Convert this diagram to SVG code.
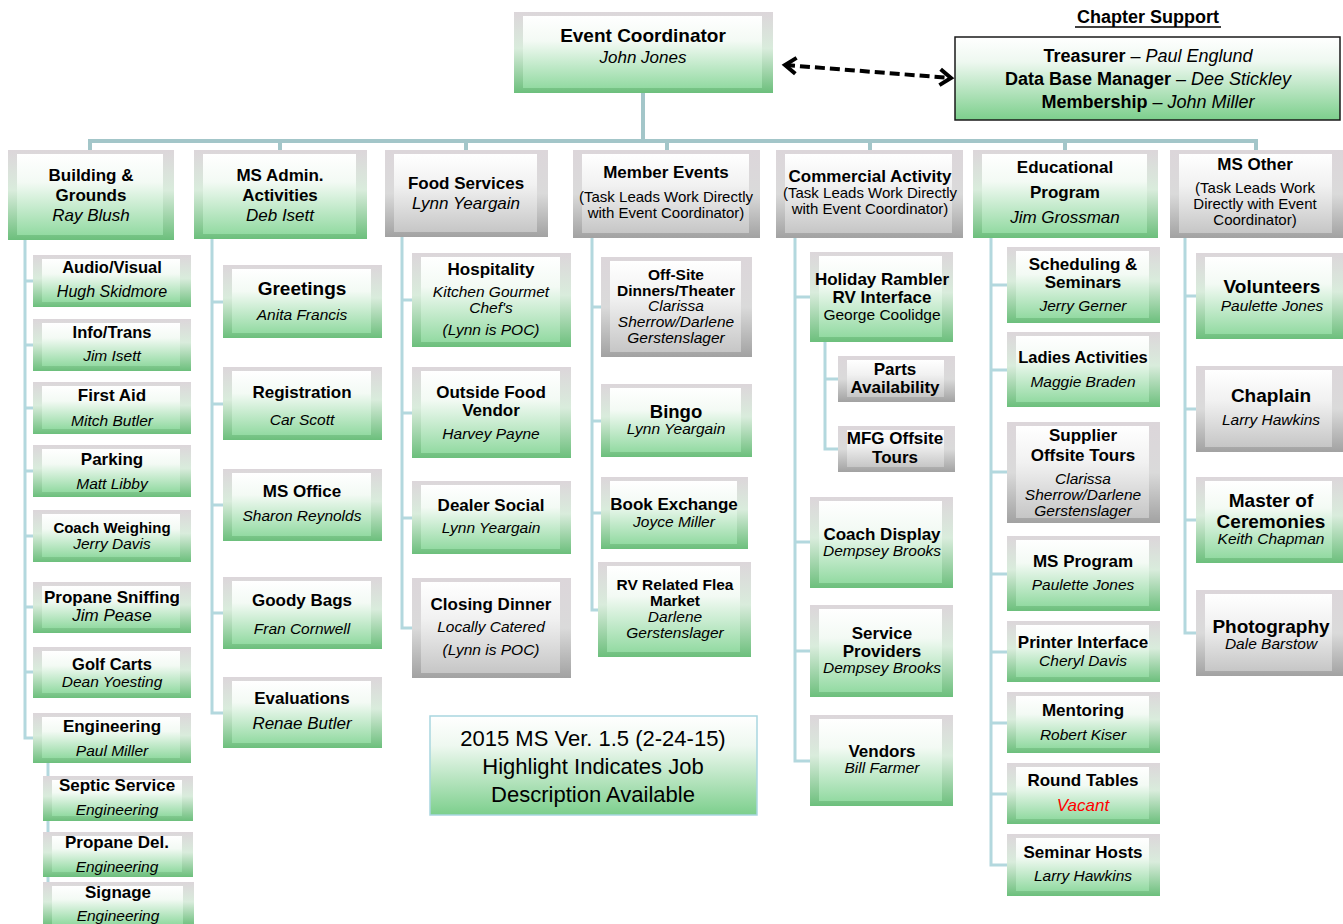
<svg xmlns="http://www.w3.org/2000/svg" width="1343" height="924" viewBox="0 0 1343 924">
<defs>
<linearGradient id="gFrG" x1="0" y1="0" x2="0" y2="1"><stop offset="0" stop-color="#dcd6da"/><stop offset="0.45" stop-color="#d9ecdc"/><stop offset="1" stop-color="#6cbf7c"/></linearGradient>
<linearGradient id="gFcG" x1="0" y1="0" x2="0" y2="1"><stop offset="0" stop-color="#ffffff"/><stop offset="0.35" stop-color="#f3faf4"/><stop offset="1" stop-color="#93daa2"/></linearGradient>
<linearGradient id="gFrY" x1="0" y1="0" x2="0" y2="1"><stop offset="0" stop-color="#dcd6da"/><stop offset="0.5" stop-color="#dadada"/><stop offset="1" stop-color="#a2a2a2"/></linearGradient>
<linearGradient id="gFcY" x1="0" y1="0" x2="0" y2="1"><stop offset="0" stop-color="#ffffff"/><stop offset="0.4" stop-color="#f1f1f1"/><stop offset="1" stop-color="#c6c6c6"/></linearGradient>
<linearGradient id="gPl" x1="0" y1="0" x2="0" y2="1"><stop offset="0" stop-color="#ffffff"/><stop offset="0.3" stop-color="#eef8f0"/><stop offset="1" stop-color="#7ccf8c"/></linearGradient>
<marker id="chev" viewBox="-16 -12 20 24" refX="0" refY="0" markerWidth="20" markerHeight="24" markerUnits="userSpaceOnUse" orient="auto-start-reverse"><path d="M-11,-8 L0,0 L-11,8" fill="none" stroke="#000" stroke-width="4"/></marker>
</defs>
<style>
text{font-family:"Liberation Sans",Arial,sans-serif;text-anchor:middle;fill:#000}
.b{font-weight:bold;font-size:17px}
.i{font-style:italic;font-size:15.5px}
.r{font-size:15px}
.g .fr{fill:url(#gFrG)}
.g .fc{fill:url(#gFcG)}
.y .fr{fill:url(#gFrY)}
.y .fc{fill:url(#gFcY)}
.cn{stroke:#b3d8de;stroke-width:3;fill:none}
.bus{stroke:#a3c6c9;stroke-width:4;fill:none}
</style>
<rect width="1343" height="924" fill="#ffffff"/>

<g id="connectors">
<path class="bus" d="M643,93 V141 M88,141 H1258 M90,141 V150 M280,141 V150 M466,141 V150 M667,141 V150 M870,141 V150 M1065,141 V150 M1256,141 V150"/>
<path class="cn" d="M25,240 V738 H33 M25,281 H33 M25,345 H33 M25,408 H33 M25,471 H33 M25,536 H33 M25,607 H33 M25,672 H33"/>
<path class="cn" d="M48,763 V905"/>
<path class="cn" d="M212,239 V713 H223 M212,302 H223 M212,404 H223 M212,505 H223 M212,613 H223"/>
<path class="cn" d="M402,237 V628 H412 M402,300 H412 M402,413 H412 M402,518 H412"/>
<path class="cn" d="M592,238 V610 H601 M592,307 H601 M592,421 H601 M592,513 H601"/>
<path class="cn" d="M795,238 V761 H810 M795,297 H810 M795,542 H810 M795,651 H810"/>
<path class="cn" d="M825,342 V449 H838 M825,379 H838"/>
<path class="cn" d="M991,238 V865 H1007 M991,285 H1007 M991,370 H1007 M991,472 H1007 M991,574 H1007 M991,652 H1007 M991,723 H1007 M991,794 H1007"/>
<path class="cn" d="M1185,238 V633 H1196 M1185,296 H1196 M1185,409 H1196 M1185,520 H1196"/>
<line x1="785" y1="65" x2="951" y2="78" stroke="#000" stroke-width="4" stroke-dasharray="10 5" marker-start="url(#chev)" marker-end="url(#chev)"/>
</g>

<g id="event-coordinator" class="g"><rect class="fr" x="514" y="12" width="259" height="81"/><rect class="fc" x="523" y="16" width="239" height="72"/>
<text class="b" x="643" y="42" style="font-size:19px">Event Coordinator</text><text class="i" x="643" y="63" style="font-size:17px">John Jones</text></g>

<g id="chapter-support">
<text class="b" x="1148" y="23" style="font-size:18px">Chapter Support</text><line x1="1075" y1="27" x2="1221" y2="27" stroke="#000" stroke-width="1.5"/>
<rect x="955" y="37" width="385" height="83" fill="url(#gPl)" stroke="#1a1a1a" stroke-width="1.5"/>
<text x="1148" y="62" style="font-size:18px"><tspan font-weight="bold">Treasurer</tspan> – <tspan font-style="italic">Paul Englund</tspan></text>
<text x="1148" y="85" style="font-size:18px"><tspan font-weight="bold">Data Base Manager</tspan> – <tspan font-style="italic">Dee Stickley</tspan></text>
<text x="1148" y="108" style="font-size:18px"><tspan font-weight="bold">Membership</tspan> – <tspan font-style="italic">John Miller</tspan></text>
</g>

<g id="building-grounds" class="g"><rect class="fr" x="8" y="150" width="166" height="90"/><rect class="fc" x="17" y="154" width="146" height="81"/>
<text class="b" x="91" y="181">Building &amp;</text><text class="b" x="91" y="201">Grounds</text><text class="i" x="91" y="221" style="font-size:17px">Ray Blush</text></g>
<g id="ms-admin" class="g"><rect class="fr" x="194" y="150" width="173" height="89"/><rect class="fc" x="203" y="154" width="153" height="80"/>
<text class="b" x="280" y="181">MS Admin.</text><text class="b" x="280" y="201">Activities</text><text class="i" x="280" y="221" style="font-size:17px">Deb Isett</text></g>
<g id="food-services" class="y"><rect class="fr" x="385" y="150" width="163" height="87"/><rect class="fc" x="394" y="154" width="143" height="78"/>
<text class="b" x="466" y="189">Food Services</text><text class="i" x="466" y="209" style="font-size:17px">Lynn Yeargain</text></g>
<g id="member-events" class="y"><rect class="fr" x="573" y="150" width="187" height="88"/><rect class="fc" x="582" y="154" width="167" height="79"/>
<text class="b" x="666" y="178">Member Events</text><text class="r" x="666" y="202">(Task Leads Work Directly</text><text class="r" x="666" y="218">with Event Coordinator)</text></g>
<g id="commercial-activity" class="y"><rect class="fr" x="776" y="150" width="187" height="88"/><rect class="fc" x="785" y="154" width="167" height="79"/>
<text class="b" x="870" y="182">Commercial Activity</text><text class="r" x="870" y="198">(Task Leads Work Directly</text><text class="r" x="870" y="214">with Event Coordinator)</text></g>
<g id="educational-program" class="g"><rect class="fr" x="973" y="150" width="185" height="88"/><rect class="fc" x="982" y="154" width="165" height="79"/>
<text class="b" x="1065" y="173">Educational</text><text class="b" x="1065" y="198">Program</text><text class="i" x="1065" y="223" style="font-size:17px">Jim Grossman</text></g>
<g id="ms-other" class="y"><rect class="fr" x="1170" y="150" width="173" height="88"/><rect class="fc" x="1179" y="154" width="153" height="79"/>
<text class="b" x="1255" y="170">MS Other</text><text class="r" x="1255" y="193">(Task Leads Work</text><text class="r" x="1255" y="209">Directly with Event</text><text class="r" x="1255" y="225">Coordinator)</text></g>

<g id="audio-visual" class="g"><rect class="fr" x="33" y="255" width="158" height="52"/><rect class="fc" x="42" y="259" width="138" height="43"/>
<text class="b" x="112" y="273" style="font-size:16.5px">Audio/Visual</text><text class="i" x="112" y="297" style="font-size:16px">Hugh Skidmore</text></g>
<g id="info-trans" class="g"><rect class="fr" x="33" y="319" width="158" height="52"/><rect class="fc" x="42" y="323" width="138" height="43"/>
<text class="b" x="112" y="338" style="font-size:16.5px">Info/Trans</text><text class="i" x="112" y="361">Jim Isett</text></g>
<g id="first-aid" class="g"><rect class="fr" x="33" y="382" width="158" height="52"/><rect class="fc" x="42" y="386" width="138" height="43"/>
<text class="b" x="112" y="401">First Aid</text><text class="i" x="112" y="426">Mitch Butler</text></g>
<g id="parking" class="g"><rect class="fr" x="33" y="445" width="158" height="52"/><rect class="fc" x="42" y="449" width="138" height="43"/>
<text class="b" x="112" y="465">Parking</text><text class="i" x="112" y="489">Matt Libby</text></g>
<g id="coach-weighing" class="g"><rect class="fr" x="33" y="510" width="158" height="52"/><rect class="fc" x="42" y="514" width="138" height="43"/>
<text class="b" x="112" y="533" style="font-size:15px">Coach Weighing</text><text class="i" x="112" y="549">Jerry Davis</text></g>
<g id="propane-sniffing" class="g"><rect class="fr" x="33" y="582" width="158" height="51"/><rect class="fc" x="42" y="586" width="138" height="42"/>
<text class="b" x="112" y="603">Propane Sniffing</text><text class="i" x="112" y="621" style="font-size:17px">Jim Pease</text></g>
<g id="golf-carts" class="g"><rect class="fr" x="33" y="647" width="158" height="51"/><rect class="fc" x="42" y="651" width="138" height="42"/>
<text class="b" x="112" y="670" style="font-size:16.5px">Golf Carts</text><text class="i" x="112" y="687">Dean Yoesting</text></g>
<g id="engineering" class="g"><rect class="fr" x="33" y="713" width="158" height="50"/><rect class="fc" x="42" y="717" width="138" height="41"/>
<text class="b" x="112" y="732">Engineering</text><text class="i" x="112" y="756">Paul Miller</text></g>
<g id="septic-service" class="g"><rect class="fr" x="43" y="776" width="150" height="45"/><rect class="fc" x="52" y="780" width="130" height="36"/>
<text class="b" x="117" y="791">Septic Service</text><text class="i" x="117" y="815">Engineering</text></g>
<g id="propane-del" class="g"><rect class="fr" x="43" y="832" width="150" height="45"/><rect class="fc" x="52" y="836" width="130" height="36"/>
<text class="b" x="117" y="848">Propane Del.</text><text class="i" x="117" y="872">Engineering</text></g>
<g id="signage" class="g"><rect class="fr" x="43" y="882" width="151" height="44"/><rect class="fc" x="52" y="886" width="131" height="38"/>
<text class="b" x="118" y="898">Signage</text><text class="i" x="118" y="921">Engineering</text></g>

<g id="greetings" class="g"><rect class="fr" x="223" y="265" width="159" height="73"/><rect class="fc" x="232" y="269" width="139" height="64"/>
<text class="b" x="302" y="295" style="font-size:19px">Greetings</text><text class="i" x="302" y="320">Anita Francis</text></g>
<g id="registration" class="g"><rect class="fr" x="223" y="367" width="159" height="73"/><rect class="fc" x="232" y="371" width="139" height="64"/>
<text class="b" x="302" y="398">Registration</text><text class="i" x="302" y="425">Car Scott</text></g>
<g id="ms-office" class="g"><rect class="fr" x="223" y="469" width="159" height="72"/><rect class="fc" x="232" y="473" width="139" height="63"/>
<text class="b" x="302" y="497">MS Office</text><text class="i" x="302" y="521">Sharon Reynolds</text></g>
<g id="goody-bags" class="g"><rect class="fr" x="223" y="577" width="159" height="72"/><rect class="fc" x="232" y="581" width="139" height="63"/>
<text class="b" x="302" y="606">Goody Bags</text><text class="i" x="302" y="634">Fran Cornwell</text></g>
<g id="evaluations" class="g"><rect class="fr" x="223" y="677" width="159" height="71"/><rect class="fc" x="232" y="681" width="139" height="62"/>
<text class="b" x="302" y="704">Evaluations</text><text class="i" x="302" y="729" style="font-size:17px">Renae Butler</text></g>

<g id="hospitality" class="g"><rect class="fr" x="412" y="253" width="159" height="94"/><rect class="fc" x="421" y="257" width="139" height="85"/>
<text class="b" x="491" y="275">Hospitality</text><text class="i" x="491" y="297">Kitchen Gourmet</text><text class="i" x="491" y="313">Chef's</text><text class="i" x="491" y="335">(Lynn is POC)</text></g>
<g id="outside-food-vendor" class="g"><rect class="fr" x="412" y="367" width="159" height="91"/><rect class="fc" x="421" y="371" width="139" height="82"/>
<text class="b" x="491" y="398">Outside Food</text><text class="b" x="491" y="416">Vendor</text><text class="i" x="491" y="439">Harvey Payne</text></g>
<g id="dealer-social" class="g"><rect class="fr" x="412" y="481" width="159" height="73"/><rect class="fc" x="421" y="485" width="139" height="64"/>
<text class="b" x="491" y="511">Dealer Social</text><text class="i" x="491" y="533">Lynn Yeargain</text></g>
<g id="closing-dinner" class="y"><rect class="fr" x="412" y="578" width="159" height="100"/><rect class="fc" x="421" y="582" width="139" height="91"/>
<text class="b" x="491" y="610">Closing Dinner</text><text class="i" x="491" y="632">Locally Catered</text><text class="i" x="491" y="655">(Lynn is POC)</text></g>

<g id="off-site-dinners" class="y"><rect class="fr" x="601" y="257" width="151" height="100"/><rect class="fc" x="610" y="261" width="131" height="91"/>
<text class="b" x="676" y="280" style="font-size:15.5px">Off-Site</text><text class="b" x="676" y="296" style="font-size:15.5px">Dinners/Theater</text><text class="i" x="676" y="311">Clarissa</text><text class="i" x="676" y="327">Sherrow/Darlene</text><text class="i" x="676" y="343">Gerstenslager</text></g>
<g id="bingo" class="g"><rect class="fr" x="601" y="384" width="151" height="73"/><rect class="fc" x="610" y="388" width="131" height="64"/>
<text class="b" x="676" y="418" style="font-size:18.5px">Bingo</text><text class="i" x="676" y="434">Lynn Yeargain</text></g>
<g id="book-exchange" class="g"><rect class="fr" x="601" y="477" width="147" height="72"/><rect class="fc" x="610" y="481" width="127" height="63"/>
<text class="b" x="674" y="510">Book Exchange</text><text class="i" x="674" y="527">Joyce Miller</text></g>
<g id="rv-flea-market" class="g"><rect class="fr" x="598" y="562" width="153" height="95"/><rect class="fc" x="607" y="566" width="133" height="86"/>
<text class="b" x="675" y="590" style="font-size:15.5px">RV Related Flea</text><text class="b" x="675" y="606" style="font-size:15.5px">Market</text><text class="i" x="675" y="622">Darlene</text><text class="i" x="675" y="638">Gerstenslager</text></g>

<g id="holiday-rambler" class="g"><rect class="fr" x="810" y="252" width="143" height="90"/><rect class="fc" x="819" y="256" width="123" height="81"/>
<text class="b" x="882" y="285">Holiday Rambler</text><text class="b" x="882" y="303">RV Interface</text><text class="r" x="882" y="320" style="font-size:15.5px">George Coolidge</text></g>
<g id="parts-availability" class="y"><rect class="fr" x="838" y="356" width="117" height="46"/><rect class="fc" x="847" y="360" width="97" height="37"/>
<text class="b" x="895" y="375">Parts</text><text class="b" x="895" y="393">Availability</text></g>
<g id="mfg-offsite-tours" class="y"><rect class="fr" x="838" y="426" width="117" height="46"/><rect class="fc" x="847" y="430" width="97" height="37"/>
<text class="b" x="895" y="444">MFG Offsite</text><text class="b" x="895" y="463">Tours</text></g>
<g id="coach-display" class="g"><rect class="fr" x="810" y="497" width="143" height="91"/><rect class="fc" x="819" y="501" width="123" height="82"/>
<text class="b" x="882" y="540">Coach Display</text><text class="i" x="882" y="556">Dempsey Brooks</text></g>
<g id="service-providers" class="g"><rect class="fr" x="810" y="605" width="143" height="92"/><rect class="fc" x="819" y="609" width="123" height="83"/>
<text class="b" x="882" y="639">Service</text><text class="b" x="882" y="657">Providers</text><text class="i" x="882" y="673">Dempsey Brooks</text></g>
<g id="vendors" class="g"><rect class="fr" x="810" y="715" width="143" height="91"/><rect class="fc" x="819" y="719" width="123" height="82"/>
<text class="b" x="882" y="757">Vendors</text><text class="i" x="882" y="773">Bill Farmer</text></g>

<g id="scheduling-seminars" class="g"><rect class="fr" x="1007" y="247" width="153" height="76"/><rect class="fc" x="1016" y="251" width="133" height="67"/>
<text class="b" x="1083" y="270">Scheduling &amp;</text><text class="b" x="1083" y="288">Seminars</text><text class="i" x="1083" y="311">Jerry Gerner</text></g>
<g id="ladies-activities" class="g"><rect class="fr" x="1007" y="332" width="153" height="75"/><rect class="fc" x="1016" y="336" width="133" height="66"/>
<text class="b" x="1083" y="363" style="font-size:16.5px">Ladies Activities</text><text class="i" x="1083" y="387">Maggie Braden</text></g>
<g id="supplier-offsite-tours" class="y"><rect class="fr" x="1007" y="422" width="153" height="101"/><rect class="fc" x="1016" y="426" width="133" height="92"/>
<text class="b" x="1083" y="441">Supplier</text><text class="b" x="1083" y="461">Offsite Tours</text><text class="i" x="1083" y="484">Clarissa</text><text class="i" x="1083" y="500">Sherrow/Darlene</text><text class="i" x="1083" y="516">Gerstenslager</text></g>
<g id="ms-program" class="g"><rect class="fr" x="1007" y="536" width="153" height="75"/><rect class="fc" x="1016" y="540" width="133" height="66"/>
<text class="b" x="1083" y="567">MS Program</text><text class="i" x="1083" y="590">Paulette Jones</text></g>
<g id="printer-interface" class="g"><rect class="fr" x="1007" y="621" width="153" height="61"/><rect class="fc" x="1016" y="625" width="133" height="52"/>
<text class="b" x="1083" y="648">Printer Interface</text><text class="i" x="1083" y="666">Cheryl Davis</text></g>
<g id="mentoring" class="g"><rect class="fr" x="1007" y="692" width="153" height="61"/><rect class="fc" x="1016" y="696" width="133" height="52"/>
<text class="b" x="1083" y="716">Mentoring</text><text class="i" x="1083" y="740">Robert Kiser</text></g>
<g id="round-tables" class="g"><rect class="fr" x="1007" y="763" width="153" height="61"/><rect class="fc" x="1016" y="767" width="133" height="52"/>
<text class="b" x="1083" y="786">Round Tables</text><text class="i" x="1083" y="811" style="font-size:17px;fill:#ff0000">Vacant</text></g>
<g id="seminar-hosts" class="g"><rect class="fr" x="1007" y="834" width="153" height="62"/><rect class="fc" x="1016" y="838" width="133" height="53"/>
<text class="b" x="1083" y="858">Seminar Hosts</text><text class="i" x="1083" y="881">Larry Hawkins</text></g>

<g id="volunteers" class="g"><rect class="fr" x="1196" y="253" width="147" height="86"/><rect class="fc" x="1205" y="257" width="127" height="77"/>
<text class="b" x="1272" y="293" style="font-size:19px">Volunteers</text><text class="i" x="1272" y="311">Paulette Jones</text></g>
<g id="chaplain" class="y"><rect class="fr" x="1196" y="366" width="147" height="86"/><rect class="fc" x="1205" y="370" width="127" height="77"/>
<text class="b" x="1271" y="402" style="font-size:19px">Chaplain</text><text class="i" x="1271" y="425">Larry Hawkins</text></g>
<g id="master-of-ceremonies" class="g"><rect class="fr" x="1196" y="477" width="147" height="86"/><rect class="fc" x="1205" y="481" width="127" height="77"/>
<text class="b" x="1271" y="507" style="font-size:19px">Master of</text><text class="b" x="1271" y="528" style="font-size:19px">Ceremonies</text><text class="i" x="1271" y="544">Keith Chapman</text></g>
<g id="photography" class="y"><rect class="fr" x="1196" y="590" width="147" height="86"/><rect class="fc" x="1205" y="594" width="127" height="77"/>
<text class="b" x="1271" y="633" style="font-size:19px">Photography</text><text class="i" x="1271" y="649">Dale Barstow</text></g>

<g id="legend"><rect x="430" y="716" width="327" height="99" fill="url(#gPl)" stroke="#a9d6e0" stroke-width="1.5"/>
<text x="593" y="746" style="font-size:22px">2015 MS Ver. 1.5 (2-24-15)</text><text x="593" y="774" style="font-size:22px">Highlight Indicates Job</text><text x="593" y="802" style="font-size:22px">Description Available</text></g>
</svg>
